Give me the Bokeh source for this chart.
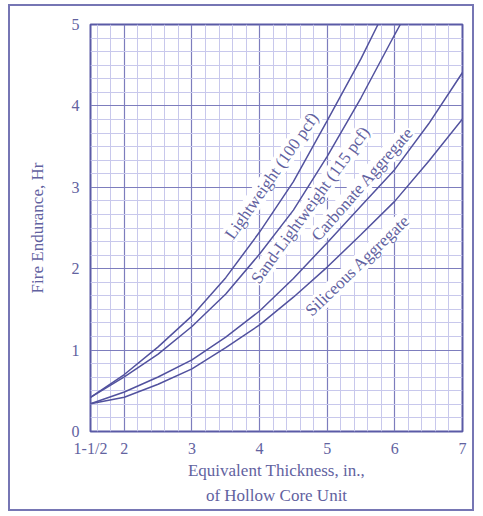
from bokeh.plotting import figure
from bokeh.models import Label, FixedTicker, LinearAxis
from bokeh.embed import file_html
from bokeh.resources import INLINE
import numpy as np

# ---- data ----
lw_x = [1.5, 2, 2.5, 3, 3.5, 4, 4.5, 5, 5.5, 5.75]
lw_y = [0.42, 0.70, 1.04, 1.42, 1.89, 2.45, 3.07, 3.82, 4.58, 5.0]

sl_x = [1.5, 2, 2.5, 3, 3.5, 4, 4.5, 5, 5.5, 6, 6.08]
sl_y = [0.42, 0.67, 0.95, 1.29, 1.69, 2.18, 2.72, 3.38, 4.10, 4.88, 5.0]

ca_x = [1.5, 2, 2.5, 3, 3.5, 4, 4.5, 5, 5.5, 6, 6.5, 7]
ca_y = [0.34, 0.485, 0.67, 0.88, 1.16, 1.48, 1.88, 2.32, 2.77, 3.22, 3.78, 4.41]

si_x = [1.5, 2, 2.5, 3, 3.5, 4, 4.5, 5, 5.5, 6, 6.5, 7]
si_y = [0.34, 0.42, 0.58, 0.77, 1.03, 1.31, 1.65, 2.02, 2.42, 2.83, 3.32, 3.84]

x_ticks = [1.5, 2, 3, 4, 5, 6, 7]
x_tick_labels = {1.5: "1-1/2", 2: "2", 3: "3", 4: "4", 5: "5", 6: "6", 7: "7"}
y_ticks = [0, 1, 2, 3, 4, 5]

curve_labels = ["Lightweight (100 pcf)", "Sand-Lightweight (115 pcf)",
                "Carbonate Aggregate", "Siliceous Aggregate"]

x_title_1 = "Equivalent Thickness, in.,"
x_title_2 = "of Hollow Core Unit"
y_title = "Fire Endurance, Hr"

# ---- styling ----
INK = "#52529e"
TXT = "#62629f"
FONT = "Liberation Serif"

# canvas starts at page (10, 6) because of margin + 2px border
OX, OY = 10, 6
W, H = 466, 507
p = figure(width=W, height=H, x_range=(1.5, 7), y_range=(0, 5),
           output_backend="svg", toolbar_location=None,
           min_border_left=90 - OX, min_border_right=W - (462 - OX),
           min_border_top=24 - OY, min_border_bottom=H - (431 - OY))
p.background_fill_color = "white"
p.border_fill_color = "white"
p.outline_line_color = "#5a5aa6"
p.outline_line_width = 2
# outer frame of the scanned figure
p.styles = {"border": "2px solid #7676b4", "margin-left": "8px", "margin-top": "4px"}

x_minor = [round(v, 2) for v in np.arange(1.6, 7.0, 0.2) if abs(v - round(v)) > 1e-6]
y_minor = [k / 6 for k in range(0, 31) if k % 6 != 0]

p.xaxis.ticker = FixedTicker(ticks=x_ticks, minor_ticks=x_minor)
p.yaxis.ticker = FixedTicker(ticks=y_ticks, minor_ticks=y_minor)
p.xaxis.major_label_overrides = x_tick_labels

for ax in (p.xaxis[0], p.yaxis[0]):
    ax.axis_line_color = None
    ax.major_tick_line_color = None
    ax.minor_tick_line_color = None
    ax.major_tick_out = 0
    ax.major_tick_in = 0
    ax.minor_tick_out = 0
    ax.minor_tick_in = 0
    ax.major_label_text_font = FONT
    ax.major_label_text_font_size = "16px"
    ax.major_label_text_color = TXT
    ax.axis_label_text_font = FONT
    ax.axis_label_text_font_size = "17px"
    ax.axis_label_text_font_style = "normal"
    ax.axis_label_text_color = TXT
p.xaxis.major_label_standoff = 8
p.yaxis.major_label_standoff = 11
p.xaxis.axis_label = x_title_1
p.xaxis.axis_label_standoff = 1
p.yaxis.axis_label = y_title
p.yaxis.axis_label_standoff = 22

# second line of the x title
ax2 = LinearAxis(ticker=FixedTicker(ticks=[]), axis_label=x_title_2,
                 axis_line_color=None, major_tick_line_color=None,
                 minor_tick_line_color=None, axis_label_standoff=3,
                 axis_label_text_font=FONT, axis_label_text_font_size="17px",
                 axis_label_text_font_style="normal", axis_label_text_color=TXT)
p.add_layout(ax2, "below")

for g in (p.xgrid[0], p.ygrid[0]):
    g.grid_line_color = "#7d7dbd"
    g.grid_line_width = 1.2
    g.minor_grid_line_color = "#c8c8ec"
    g.minor_grid_line_width = 1

# curve labels (white background interrupts the grid, as in the scan)
label_pos = [(4.18, 3.14, 55), (4.75, 2.78, 54), (5.52, 3.04, 48.7), (5.45, 2.04, 44)]
for txt, (lx, ly, ang) in zip(curve_labels, label_pos):
    p.add_layout(Label(x=lx, y=ly, text=txt, angle=ang, angle_units="deg",
                       text_align="center", text_baseline="middle",
                       text_font=FONT, text_font_size="17px", text_color=TXT,
                       background_fill_color="white", level="underlay"))

for xs, ys in ((lw_x, lw_y), (sl_x, sl_y), (ca_x, ca_y), (si_x, si_y)):
    p.line(xs, ys, line_color=INK, line_width=1.5)

open("out.html", "w").write(file_html(p, INLINE))
